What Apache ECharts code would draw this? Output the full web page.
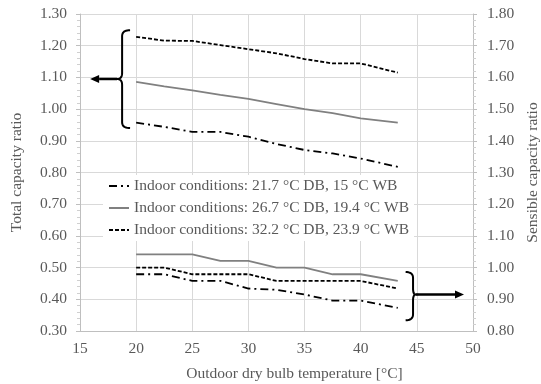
<!DOCTYPE html>
<html>
<head>
<meta charset="utf-8">
<script src="https://cdn.jsdelivr.net/npm/echarts@6/dist/echarts.min.js"></script>
<style>
  html, body { margin: 0; padding: 0; background: #fff; }
  #main { width: 541px; height: 384px; }
</style>
</head>
<body>
<div id="main"></div>
<script>
// outdoor dry bulb temperature [°C]
var temps = [20, 22.5, 25, 27.5, 30, 32.5, 35, 37.5, 40, 43.3];

// total capacity ratio (left axis)
var total217 = [0.957, 0.944, 0.928, 0.928, 0.913, 0.89, 0.871, 0.860, 0.844, 0.818];
var total267 = [1.086, 1.072, 1.059, 1.045, 1.032, 1.016, 1.000, 0.987, 0.971, 0.957];
var total322 = [1.228, 1.216, 1.215, 1.202, 1.189, 1.176, 1.158, 1.144, 1.144, 1.115];

// sensible capacity ratio (right axis)
var sens217 = [0.979, 0.979, 0.958, 0.958, 0.934, 0.93, 0.915, 0.896, 0.896, 0.873];
var sens267 = [1.042, 1.042, 1.042, 1.021, 1.021, 1.000, 1.000, 0.979, 0.979, 0.958];
var sens322 = [1.000, 1.000, 0.979, 0.979, 0.979, 0.958, 0.958, 0.958, 0.958, 0.934];

var names = [
  "Indoor conditions: 21.7 °C DB, 15 °C WB",
  "Indoor conditions: 26.7 °C DB, 19.4 °C WB",
  "Indoor conditions: 32.2 °C DB, 23.9 °C WB"
];

var FONT = "'Liberation Serif', 'Times New Roman', serif";
var TXT = "#595959";
var FS = 15.5;

function pairs(vals) {
  var out = [];
  for (var i = 0; i < temps.length; i++) out.push([temps[i], vals[i]]);
  return out;
}

var styles = [
  { color: "#000", width: 1.8, type: [8, 4, 2, 4] },
  { color: "#808080", width: 1.8, type: "solid" },
  { color: "#000", width: 1.8, type: [4, 2] }
];

function mkSeries(name, vals, st, yIdx) {
  return {
    name: name,
    type: "line",
    yAxisIndex: yIdx,
    data: pairs(vals),
    symbol: "none",
    color: st.color,
    lineStyle: { color: st.color, width: st.width, type: st.type },
    animation: false
  };
}

var chart = echarts.init(document.getElementById("main"));

var yAxisBase = function (min, max, pos, name, gap, margin) {
  return {
    type: "value",
    position: pos,
    min: min,
    max: max,
    interval: 0.1,
    name: name,
    nameLocation: "middle",
    nameGap: gap,
    nameRotate: 90,
    nameTextStyle: { fontFamily: FONT, fontSize: FS, color: TXT },
    axisLine: { show: true, lineStyle: { color: "#bfbfbf", width: 1 } },
    axisTick: { show: true, length: 4, lineStyle: { color: "#bfbfbf" } },
    minorTick: { show: true, splitNumber: 5, length: 3, lineStyle: { color: "#d0d0d0" } },
    axisLabel: {
      fontFamily: FONT, fontSize: FS, color: TXT, margin: margin,
      formatter: function (v) { return v.toFixed(2); }
    },
    splitLine: { show: pos === "left", lineStyle: { color: "#d9d9d9", width: 1 } }
  };
};

chart.setOption({
  animation: false,
  grid: { left: 80, right: 68, top: 14, bottom: 53, outerBoundsMode: "none", containLabel: false },
  legend: {
    orient: "vertical",
    left: 103,
    top: 175,
    itemWidth: 20,
    itemHeight: 12,
    itemGap: 6,
    padding: [3, 5, 3, 5],
    backgroundColor: "#fff",
    itemStyle: { opacity: 0 },
    data: names,
    textStyle: { fontFamily: FONT, fontSize: FS, color: TXT }
  },
  xAxis: {
    type: "value",
    min: 15,
    max: 50,
    interval: 5,
    name: "Outdoor dry bulb temperature [°C]",
    nameLocation: "middle",
    nameGap: 35,
    nameTextStyle: { fontFamily: FONT, fontSize: FS, color: TXT, padding: [0, 0, 0, 36] },
    axisLine: { show: true, lineStyle: { color: "#bfbfbf", width: 1 } },
    axisTick: { show: false },
    axisLabel: { fontFamily: FONT, fontSize: FS, color: TXT, margin: 10 },
    splitLine: { show: true, lineStyle: { color: "#d9d9d9", width: 1 } }
  },
  yAxis: [
    yAxisBase(0.3, 1.3, "left", "Total capacity ratio", 55, 13),
    yAxisBase(0.8, 1.8, "right", "Sensible capacity ratio", 48, 14)
  ],
  series: [
    mkSeries(names[0], total217, styles[0], 0),
    mkSeries(names[1], total267, styles[1], 0),
    mkSeries(names[2], total322, styles[2], 0),
    mkSeries(names[0], sens217, styles[0], 1),
    mkSeries(names[1], sens267, styles[1], 1),
    mkSeries(names[2], sens322, styles[2], 1)
  ]
});

// brace annotations, anchored in axis units
// [armX, midX, tipX, yTop, yCenter, yBottom, arrowEndX]
var braceTotal = [19.46, 18.75, 18.3, 1.249, 1.095, 0.94, 15.9];
var braceSens = [44.0, 44.66, 44.9, 0.986, 0.915, 0.834, 49.2];

function quad(p0, c, p1, pts) {
  for (var t = 0.1; t <= 1.0001; t += 0.1) {
    var a = (1 - t) * (1 - t), b = 2 * (1 - t) * t, d = t * t;
    pts.push([a * p0[0] + b * c[0] + d * p1[0], a * p0[1] + b * c[1] + d * p1[1]]);
  }
}

function braceGraphics(b, yIdx) {
  var px = function (x, y) { return chart.convertToPixel({ xAxisIndex: 0, yAxisIndex: yIdx }, [x, y]); };
  var top = px(b[0], b[3]), mid = px(b[1], b[4]), tip = px(b[2], b[4]), bot = px(b[0], b[5]);
  var end = px(b[6], b[4]);
  var xa = top[0], xm = mid[0], xt = tip[0];
  var y1 = top[1], yc = mid[1], y2 = bot[1];
  var r = 6;
  var pts = [[xa, y1]];
  quad([xa, y1], [xm, y1], [xm, y1 + r], pts);
  pts.push([xm, yc - r]);
  quad([xm, yc - r], [xm, yc], [xt, yc], pts);
  quad([xt, yc], [xm, yc], [xm, yc + r], pts);
  pts.push([xm, y2 - r]);
  quad([xm, y2 - r], [xm, y2], [xa, y2], pts);
  var dir = end[0] < xt ? -1 : 1;
  var head = 9, hw = 4;
  return [
    { type: "polyline", shape: { points: pts }, style: { stroke: "#000", lineWidth: 2, fill: null }, z: 10 },
    { type: "line", shape: { x1: xt, y1: yc, x2: end[0] - dir * head, y2: yc }, style: { stroke: "#000", lineWidth: 2.5 }, z: 10 },
    { type: "polygon", shape: { points: [[end[0], yc], [end[0] - dir * head, yc - hw], [end[0] - dir * head, yc + hw]] }, style: { fill: "#000" }, z: 10 }
  ];
}

chart.setOption({
  graphic: braceGraphics(braceTotal, 0).concat(braceGraphics(braceSens, 1))
});
</script>
</body>
</html>
